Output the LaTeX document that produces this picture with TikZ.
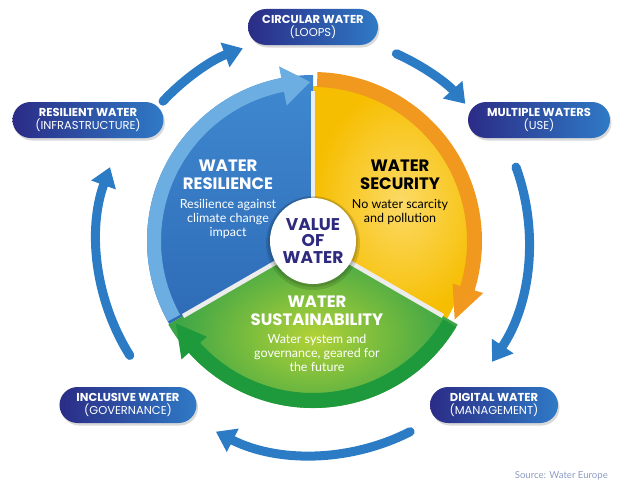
\documentclass[tikz,border=0pt]{standalone}
\usepackage{fontspec}
\setmainfont{Lato}
\newfontfamily\hd{Poppins}
\usetikzlibrary{arrows.meta,shadows}
\definecolor{navy}{HTML}{2B2C86}
\definecolor{boxblue}{HTML}{2F7AC6}
\definecolor{flow}{HTML}{2B7BC5}
\definecolor{secblue}{HTML}{2E6BB6}
\definecolor{secblue2}{HTML}{3F89D0}
\definecolor{ltblue}{HTML}{6CAEE2}
\definecolor{yel1}{HTML}{F6BE00}
\definecolor{yel2}{HTML}{FCDA66}
\definecolor{orng}{HTML}{F1991F}
\definecolor{grn1}{HTML}{37A347}
\definecolor{grn2}{HTML}{B2D236}
\definecolor{dgrn}{HTML}{1E9A3D}
\definecolor{purp}{HTML}{2E2A7E}
\definecolor{srcgray}{HTML}{8C9CC2}
\definecolor{gapc}{HTML}{ECECEC}
\begin{document}
\begin{tikzpicture}[x=1pt,y=1pt,
  wbox/.style={rectangle, rounded corners=18pt, minimum height=36pt,
    left color=navy, right color=boxblue, text=white, align=center,
    inner sep=0pt, font=\hd\fontsize{11.5}{13}\selectfont,
    drop shadow={shadow xshift=1.5pt,shadow yshift=-2.5pt,opacity=0.3}},
  flowarrow/.style={draw=flow, line width=9pt, line cap=round,
    -{Triangle[length=19pt,width=25pt]}},
  headtxt/.style={font=\hd\bfseries\fontsize{16.5}{17.5}\selectfont, align=center, inner sep=0pt},
  bodytxt/.style={font=\fontsize{12.5}{14}\selectfont, align=center, inner sep=0pt},
  gapline/.style={draw=gapc, line width=4.5pt}
]
\useasboundingbox (-313,-244) rectangle (304,241);

% sectors
\shade[top color=secblue2, bottom color=secblue] (0,0) -- (90:166pt) arc[start angle=90,end angle=210,radius=166pt] -- cycle;
\shade[inner color=yel2, outer color=yel1] (0,0) -- (-30:155pt) arc[start angle=-30,end angle=90,radius=155pt] -- cycle;
\shade[inner color=grn2, outer color=grn1] (0,0) -- (210:167pt) arc[start angle=210,end angle=330,radius=167pt] -- cycle;

% bands with heads
\fill[ltblue] (209:166pt) arc[start angle=209,end angle=101,radius=166pt]
  -- (101:178pt) -- (91:159pt) -- (101:138pt) -- (101:152pt)
  arc[start angle=101,end angle=209,radius=152pt] -- cycle;
\fill[orng] (88.5:169pt) arc[start angle=88.5,end angle=-17,radius=169pt]
  -- (-17:178pt) -- (-29:162pt) -- (-17:146pt) -- (-17:154pt)
  arc[start angle=-17,end angle=88.5,radius=154pt] -- cycle;
\fill[dgrn] (-31:167pt) arc[start angle=-31,end angle=-138,radius=167pt]
  -- (-138:177pt) -- (-149:160pt) -- (-138:143pt) -- (-138:152pt)
  arc[start angle=-138,end angle=-31,radius=152pt] -- cycle;

% gaps
\coordinate (c) at (0,0);
\coordinate (g1) at (90:150pt);
\coordinate (g2) at (-30:150pt);
\coordinate (g3) at (210:150pt);
\draw[gapline] (c) -- (g1);
\draw[gapline] (c) -- (g2);
\draw[gapline] (c) -- (g3);

% center
\fill[black,opacity=0.12] (0,-2) circle (47pt);
\fill[black,opacity=0.12] (0,-1) circle (45pt);
\node[circle, fill=white, minimum size=86pt, inner sep=0pt, text=purp,
  font=\hd\bfseries\fontsize{17}{16.5}\selectfont, align=center] (val) at (0,0) {VALUE\\OF\\WATER};

% sector texts
\node[headtxt, text=white] (resh) at (-85,66) {WATER\\RESILIENCE};
\node[bodytxt, text=white] (resb) at (-85,22) {Resilience against\\climate change\\impact};
\node[headtxt, text=black] (sech) at (87,66) {WATER\\SECURITY};
\node[bodytxt, text=black] (secb) at (87,29) {No water scarcity\\and pollution};
\node[headtxt, text=white] (sush) at (4,-70) {WATER\\SUSTAINABILITY};
\node[bodytxt, text=white] (susb) at (4,-112) {Water system and\\governance, geared for\\the future};

% outer boxes
\node[wbox, minimum width=130pt] (circ) at (0,214) {\textbf{CIRCULAR WATER}\\(LOOPS)};
\node[wbox, minimum width=151pt] (resw) at (-225,121) {\textbf{RESILIENT WATER}\\(INFRASTRUCTURE)};
\node[wbox, minimum width=142pt] (mult) at (226,121) {\textbf{MULTIPLE WATERS}\\(USE)};
\node[wbox, minimum width=137pt] (incl) at (-185,-164) {\textbf{INCLUSIVE WATER}\\(GOVERNANCE)};
\node[wbox, minimum width=128pt] (digi) at (181,-164) {\textbf{DIGITAL WATER}\\(MANAGEMENT)};

% outer flow arrows
\coordinate (a1) at (137:205pt);
\coordinate (a2) at (66:205pt);
\coordinate (a3) at (20:216pt);
\coordinate (a4) at (-63:214pt);
\coordinate (a5) at (212:216pt);
\draw[flowarrow] (a1) arc[start angle=137,end angle=110,radius=205pt];
\draw[flowarrow] (a2) arc[start angle=66,end angle=42,radius=205pt];
\draw[flowarrow] (a3) arc[start angle=20,end angle=-34,radius=216pt];
\draw[flowarrow] (a4) arc[start angle=-63,end angle=-117,radius=214pt];
\draw[flowarrow] (a5) arc[start angle=212,end angle=160,radius=216pt];

\node[anchor=east, text=srcgray, font=\fontsize{9.6}{11}\selectfont, inner sep=0pt] (src) at (295,-235) {Source: Water Europe};
\end{tikzpicture}
\end{document}
